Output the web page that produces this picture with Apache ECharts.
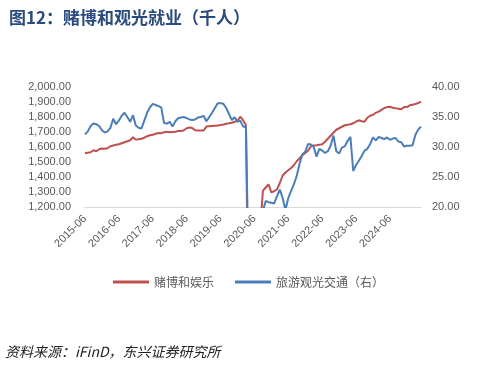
<!DOCTYPE html>
<html>
<head>
<meta charset="utf-8">
<script src="https://cdn.jsdelivr.net/npm/echarts@6/dist/echarts.min.js"></script>
<style>html,body{margin:0;padding:0;background:#fff;}#c{width:480px;height:368px;}</style>
</head>
<body>
<div id="c"></div>
<script>
// Months 2015-06 .. 2025-05 (120 points)
const startYear = 2015, startMonth = 6, monthCount = 120;
const categories = [];
for (let k = 0; k < monthCount; k++) {
  const m = startMonth - 1 + k;
  const y = startYear + Math.floor(m / 12);
  const mm = (m % 12) + 1;
  categories.push(y + '-' + (mm < 10 ? '0' + mm : mm));
}

// 赌博和娱乐 (left axis, thousand persons)
const gambling = [
  1558,1562,1565,1578,1572,1585,1590,1588,1592,1605,1610,1615,
  1618,1625,1632,1638,1645,1665,1650,1652,1655,1662,1672,1678,
  1682,1688,1693,1692,1698,1702,1698,1700,1702,1706,1706,1712,
  1725,1730,1726,1712,1710,1710,1710,1736,1738,1740,1742,1744,
  1746,1750,1755,1758,1762,1768,1775,1802,1778,1745,300,700,
  900,1000,1040,1307,1330,1351,1298,1305,1318,1360,1410,1430,
  1445,1460,1480,1505,1525,1545,1560,1575,1605,1610,1612,1615,
  1618,1635,1655,1675,1695,1715,1725,1735,1745,1748,1752,1758,
  1770,1778,1772,1769,1795,1808,1815,1828,1836,1848,1860,1866,
  1868,1862,1858,1855,1852,1866,1866,1878,1882,1886,1893,1902
];

// 旅游观光交通（右）(right axis, thousand persons)
const tourism = [
  32.1,32.6,33.5,33.9,33.8,33.5,32.8,32.4,32.6,33.2,34.7,33.8,
  34.4,35.2,35.7,35.0,34.2,35.3,33.6,33.2,33.1,34.4,35.7,36.6,
  37.2,37.0,36.8,36.6,34.0,33.9,34.2,33.4,34.3,34.8,34.9,35.0,
  34.8,34.6,34.5,34.6,34.9,35.0,35.2,34.3,35.0,35.7,36.5,37.3,
  37.3,37.2,36.5,35.5,34.5,34.95,34.2,34.4,33.4,33.3,8,12,
  15,17,18,19.3,21.0,20.8,20.7,20.6,21.8,22.9,21.5,19.5,
  21.5,22.7,23.8,25.2,27.2,28.8,29.2,30.5,30.4,30.0,28.4,29.7,
  29.4,29.0,29.3,30.2,31.9,29.3,28.9,29.9,30.1,31.0,31.7,26.0,
  27.0,27.7,28.5,29.4,29.7,30.5,31.6,31.1,31.7,31.5,31.3,31.6,
  31.2,31.4,31.5,30.9,30.8,30.1,30.2,30.2,30.3,32.0,32.9,33.4
];

const seriesNames = ['赌博和娱乐', '旅游观光交通（右）'];
const titleText = '图12：赌博和观光就业（千人）';
const sourceText = '资料来源：iFinD，东兴证券研究所';

const fmt = v => v.toLocaleString('en-US', {minimumFractionDigits: 2, maximumFractionDigits: 2});
const FONT = 'Liberation Sans, Arial, Noto Sans CJK SC, sans-serif';

const chart = echarts.init(document.getElementById('c'), null, {renderer: 'canvas'});
chart.setOption({
  animation: false,
  backgroundColor: '#fff',
  title: {
    text: titleText, left: 4, top: 4,
    textStyle: {fontSize: 17, fontWeight: 'bold', color: '#2B4A7E', fontFamily: 'Noto Sans CJK SC, sans-serif'}
  },
  graphic: [{
    type: 'text', left: 5, top: 345,
    style: {text: sourceText, fontSize: 14, fontStyle: 'italic', fill: '#222', fontFamily: 'Noto Sans CJK SC, sans-serif'}
  }],
  legend: {
    left: 108, top: 271,
    itemWidth: 36, itemHeight: 3, itemGap: 21, icon: 'rect',
    textStyle: {fontSize: 12, color: '#595959', fontFamily: 'Noto Sans CJK SC, sans-serif'},
    data: seriesNames
  },
  grid: {left: 85, right: 59, top: 87, bottom: 161, containLabel: false},
  xAxis: {
    type: 'category', data: categories, boundaryGap: false,
    axisLine: {lineStyle: {color: '#D9D9D9', width: 1}},
    axisTick: {show: false},
    axisLabel: {interval: 11, rotate: 45, fontSize: 11, color: '#595959', margin: 10, fontFamily: FONT}
  },
  yAxis: [{
    type: 'value', min: 1200, max: 2000, interval: 100,
    axisLine: {show: false}, axisTick: {show: false}, splitLine: {show: false},
    axisLabel: {formatter: fmt, fontSize: 11, color: '#595959', margin: 14, fontFamily: FONT}
  }, {
    type: 'value', min: 20, max: 40, interval: 5,
    axisLine: {show: false}, axisTick: {show: false}, splitLine: {show: false},
    axisLabel: {formatter: fmt, fontSize: 11, color: '#595959', margin: 11, fontFamily: FONT}
  }],
  series: [{
    name: seriesNames[0], type: 'line', data: gambling, yAxisIndex: 0,
    symbol: 'none', clip: true, lineStyle: {width: 2, color: '#C0504D'}, itemStyle: {color: '#C0504D'}
  }, {
    name: seriesNames[1], type: 'line', data: tourism, yAxisIndex: 1,
    symbol: 'none', clip: true, lineStyle: {width: 2, color: '#4A7EBB'}, itemStyle: {color: '#4A7EBB'}
  }]
});
</script>
</body>
</html>
